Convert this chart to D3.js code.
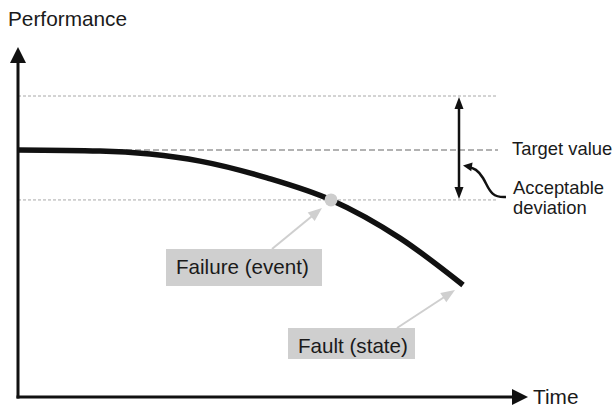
<!DOCTYPE html>
<html>
<head>
<meta charset="utf-8">
<script src="https://cdn.jsdelivr.net/npm/d3@7"></script>
<style>
  body { margin: 0; background: #fff; }
  text { font-family: "Liberation Sans", Arial, sans-serif; fill: #1a1a1a; }
</style>
</head>
<body>
<div id="chart"></div>
<script>
// performance curve (time 0-100, performance 0-100)
var timeVals = [0, 16.4, 26.4, 36.4, 49.8, 62.6, 76.4, 89];
var perfVals = [70.6, 70.3, 69.4, 67.4, 62.6, 56.3, 45.4, 32];

var upperLimit = 86;
var targetValue = 70.6;
var lowerLimit = 56.3;
var failurePoint = [62.6, 56.3];
var faultPoint = [89, 32];

var axisLabels = ["Performance", "Time"];
var sideLabels = ["Target value", "Acceptable", "deviation"];
var boxLabels = ["Failure (event)", "Fault (state)"];

var width = 613, height = 407;

var svg = d3.select("#chart").append("svg")
    .attr("width", width)
    .attr("height", height);

var x = d3.scaleLinear().domain([0, 100]).range([18, 518]);
var y = d3.scaleLinear().domain([0, 100]).range([397, 47]);

function arrowHead(tipX, tipY, dx, dy, len, half, color) {
    // triangle pointing in direction (dx, dy)
    var n = Math.sqrt(dx * dx + dy * dy);
    var ux = dx / n, uy = dy / n;
    var bx = tipX - ux * len, by = tipY - uy * len;
    svg.append("path")
        .attr("d", "M" + tipX + "," + tipY +
            "L" + (bx - uy * half) + "," + (by + ux * half) +
            "L" + (bx + uy * half) + "," + (by - ux * half) + "Z")
        .attr("fill", color);
}

// dashed reference lines
svg.append("line")
    .attr("x1", x(0)).attr("x2", x(96))
    .attr("y1", y(upperLimit)).attr("y2", y(upperLimit))
    .attr("stroke", "#a8a8a8").attr("stroke-width", 1)
    .attr("stroke-dasharray", "3,2");
svg.append("line")
    .attr("x1", x(0)).attr("x2", x(96))
    .attr("y1", y(lowerLimit)).attr("y2", y(lowerLimit))
    .attr("stroke", "#a8a8a8").attr("stroke-width", 1)
    .attr("stroke-dasharray", "3,2");
svg.append("line")
    .attr("x1", x(0)).attr("x2", x(96))
    .attr("y1", y(targetValue)).attr("y2", y(targetValue))
    .attr("stroke", "#999").attr("stroke-width", 1.5)
    .attr("stroke-dasharray", "6,3");

// axes
svg.append("line")
    .attr("x1", x(0)).attr("x2", x(0))
    .attr("y1", y(0) + 1.5).attr("y2", y(100) + 14)
    .attr("stroke", "#111").attr("stroke-width", 3);
arrowHead(x(0), y(100), 0, -1, 16, 8, "#111");

svg.append("line")
    .attr("x1", x(0) - 1.5).attr("x2", x(102) - 14)
    .attr("y1", y(0)).attr("y2", y(0))
    .attr("stroke", "#111").attr("stroke-width", 3);
arrowHead(x(102), y(0), 1, 0, 16, 8, "#111");

svg.append("text").attr("x", 8).attr("y", 26)
    .style("font-size", "20.8px").text(axisLabels[0]);
svg.append("text").attr("x", x(103)).attr("y", y(0) + 7)
    .style("font-size", "20.8px").text(axisLabels[1]);

// the performance curve
var data = timeVals.map(function (t, i) { return { t: t, p: perfVals[i] }; });
svg.append("path")
    .datum(data)
    .attr("fill", "none")
    .attr("stroke", "#111")
    .attr("stroke-width", 5.5)
    .attr("d", d3.line()
        .x(function (d) { return x(d.t); })
        .y(function (d) { return y(d.p); })
        .curve(d3.curveMonotoneX));

// failure point
svg.append("circle")
    .attr("cx", x(failurePoint[0])).attr("cy", y(failurePoint[1]))
    .attr("r", 6.5).attr("fill", "#cdcdcd");

// acceptable deviation double arrow
var ax = x(88.2);
svg.append("line")
    .attr("x1", ax).attr("x2", ax)
    .attr("y1", y(upperLimit) + 10).attr("y2", y(lowerLimit) - 10)
    .attr("stroke", "#111").attr("stroke-width", 2.5);
arrowHead(ax, y(upperLimit) + 1, 0, -1, 12, 4.5, "#111");
arrowHead(ax, y(lowerLimit) - 1, 0, 1, 12, 4.5, "#111");

// curved pointer from label to double arrow
svg.append("path")
    .attr("d", "M506,197 C490,198 489,188 483,178 C478,170 474,168 468,167")
    .attr("fill", "none").attr("stroke", "#111").attr("stroke-width", 2.5);
arrowHead(ax + 4, 165.5, -1, -0.15, 9, 4.5, "#111");

svg.append("text").attr("x", 512).attr("y", 155)
    .style("font-size", "18.4px").text(sideLabels[0]);
svg.append("text").attr("x", 513).attr("y", 194)
    .style("font-size", "18.4px").text(sideLabels[1]);
svg.append("text").attr("x", 513).attr("y", 214)
    .style("font-size", "18.4px").text(sideLabels[2]);

// labelled boxes with grey pointers
function callout(bx, by, bw, bh, label, fromX, tipX, tipY) {
    svg.append("rect")
        .attr("x", bx).attr("y", by).attr("width", bw).attr("height", bh)
        .attr("fill", "#cfcfcf");
    svg.append("text").attr("x", bx + 10).attr("y", by + 25)
        .style("font-size", "20.6px").text(label);
    var dx = tipX - fromX, dy = tipY - by;
    var n = Math.sqrt(dx * dx + dy * dy);
    svg.append("line")
        .attr("x1", fromX).attr("y1", by)
        .attr("x2", tipX - dx / n * 10).attr("y2", tipY - dy / n * 10)
        .attr("stroke", "#cfcfcf").attr("stroke-width", 2);
    arrowHead(tipX, tipY, dx, dy, 14, 5.5, "#cfcfcf");
}

callout(166, 249, 156, 37, boxLabels[0], 272,
    x(failurePoint[0]) - 9, y(failurePoint[1]) + 8);
callout(288, 328, 127, 31, boxLabels[1], 397,
    x(faultPoint[0]) - 8, y(faultPoint[1]) + 5);
</script>
</body>
</html>
